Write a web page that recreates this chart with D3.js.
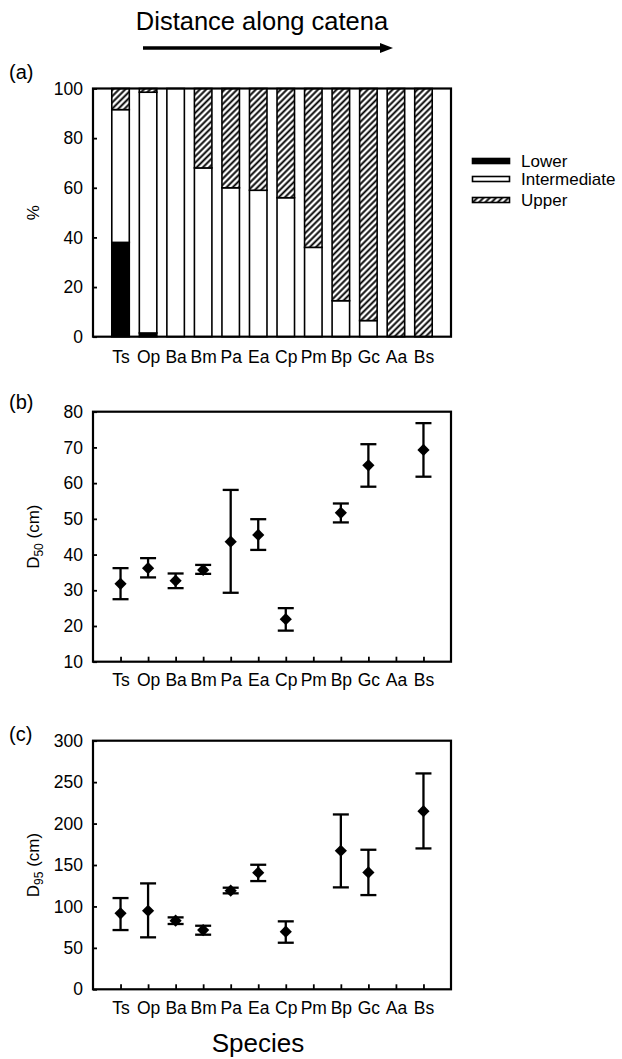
<!DOCTYPE html>
<html>
<head>
<meta charset="utf-8">
<script src="https://cdn.jsdelivr.net/npm/d3@7"></script>
<style>
  body { margin: 0; background: #fff; }
  svg text { font-family: "Liberation Sans", Arial, sans-serif; fill: #000; }
</style>
</head>
<body>
<svg id="chart" width="622" height="1059"></svg>
<script>
// species along the catena
var species = ["Ts", "Op", "Ba", "Bm", "Pa", "Ea", "Cp", "Pm", "Bp", "Gc", "Aa", "Bs"];

// (a) % of individuals in each catena position
var lowerPct = [38, 1.5, 0, 0, 0, 0, 0, 0, 0, 0, 0, 0];
var interPct = [53.5, 97, 100, 68, 60, 59, 56, 36, 14.5, 6.5, 0, 0];
var upperPct = [8.5, 1.5, 0, 32, 40, 41, 44, 64, 85.5, 93.5, 100, 100];

// (b) D50 (cm): mean, upper and lower error
var d50Mean = [31.8, 36.2, 32.7, 35.7, 43.6, 45.5, 21.9, null, 51.7, 65.0, null, 69.3];
var d50Hi   = [36.2, 39.0, 34.7, 37.1, 58.1, 49.9, 25.0, null, 54.3, 70.9, null, 76.8];
var d50Lo   = [27.5, 33.6, 30.6, 34.6, 29.3, 41.3, 18.7, null, 49.0, 59.0, null, 61.8];

// (c) D95 (cm)
var d95Mean = [91.7, 94.8, 82.8, 71.5, 119, 140.7, 69.5, null, 167.2, 141.1, null, 215];
var d95Hi   = [110.1, 127.8, 86.8, 76.7, 122.6, 150.3, 82, null, 211, 168.4, null, 260.5];
var d95Lo   = [71.5, 62.7, 78.8, 65.9, 115.8, 130.6, 56.2, null, 123, 113.7, null, 170];

var legendLabels = ["Lower", "Intermediate", "Upper"];

var svg = d3.select("#chart");
var left = 93, right = 451;

// hatch for upper (line centred in the tile so it isn't clipped)
var defs = svg.append("defs");
var pat = defs.append("pattern")
	.attr("id", "hatch")
	.attr("patternUnits", "userSpaceOnUse")
	.attr("width", 4.4)
	.attr("height", 4.4)
	.attr("patternTransform", "rotate(45)");
pat.append("rect").attr("width", 4.4).attr("height", 4.4).attr("fill", "#fff");
pat.append("line")
	.attr("x1", 2.2).attr("y1", 0)
	.attr("x2", 2.2).attr("y2", 4.4)
	.attr("stroke", "#000")
	.attr("stroke-width", 1.9);

var x = d3.scalePoint()
	.domain(species)
	.range([left, right])
	.padding(1);

// title + arrow
svg.append("text")
	.attr("x", 262)
	.attr("y", 30)
	.attr("text-anchor", "middle")
	.style("font-size", "25.5px")
	.text("Distance along catena");

svg.append("line")
	.attr("x1", 143).attr("y1", 48)
	.attr("x2", 382).attr("y2", 48)
	.attr("stroke", "#000")
	.attr("stroke-width", 3.5);
svg.append("path")
	.attr("d", "M380,43 L393,48 L380,53 Z")
	.attr("fill", "#000");

function panelLetter(txt, y)
{
	svg.append("text")
		.attr("x", 9)
		.attr("y", y)
		.style("font-size", "20px")
		.text(txt);
}

function yLabel(cy, main, sub)
{
	var t = svg.append("text")
		.attr("transform", "translate(39," + cy + ") rotate(-90)")
		.attr("text-anchor", "middle")
		.style("font-size", "17px");
	t.append("tspan").text(main);
	if (sub)
	{
		t.append("tspan").attr("dy", 4).style("font-size", "12px").text(sub);
		t.append("tspan").attr("dy", -4).text(" (cm)");
	}
}

function axes(g, y, top, bottom, ticks, xTick, xPad)
{
	g.append("g")
		.attr("transform", "translate(" + left + ",0)")
		.call(d3.axisLeft(y).tickValues(ticks).tickSizeInner(-4).tickSizeOuter(0).tickPadding(10))
		.call(function(s) {
			s.select(".domain").remove();
			s.selectAll("line").attr("stroke-width", 1.8);
			s.selectAll("text").style("font-size", "17.5px").attr("font-family", null);
		});

	g.append("g")
		.attr("transform", "translate(0," + bottom + ")")
		.call(d3.axisBottom(x).tickSizeInner(xTick).tickSizeOuter(0).tickPadding(xPad))
		.call(function(s) {
			s.select(".domain").remove();
			s.selectAll("line").attr("stroke-width", 1.8);
			s.selectAll("text").style("font-size", "17.5px").attr("font-family", null);
		});

	g.append("rect")
		.attr("x", left)
		.attr("y", top)
		.attr("width", right - left)
		.attr("height", bottom - top)
		.attr("fill", "none")
		.attr("stroke", "#000")
		.attr("stroke-width", 2.2);
}

// ---------- (a) ----------
var aTop = 88.5, aBot = 336.7;
var ya = d3.scaleLinear().domain([0, 100]).range([aBot, aTop]);
var ga = svg.append("g");
var barW = 17.5;

var stackRows = species.map(function(s, i)
{
	return { sp: s, lower: lowerPct[i], inter: interPct[i], upper: upperPct[i] };
});
var stack = d3.stack().keys(["lower", "inter", "upper"])(stackRows);
var fills = { lower: "#000", inter: "#fff", upper: "url(#hatch)" };

stack.forEach(function(layer)
{
	ga.selectAll(".bar-" + layer.key)
		.data(layer.filter(function(d) { return d[1] - d[0] > 0; }))
		.enter().append("rect")
		.attr("x", function(d) { return x(d.data.sp) - barW / 2; })
		.attr("y", function(d) { return ya(d[1]); })
		.attr("width", barW)
		.attr("height", function(d) { return ya(d[0]) - ya(d[1]); })
		.attr("fill", fills[layer.key])
		.attr("stroke", "#000")
		.attr("stroke-width", 1.6);
});

axes(ga, ya, aTop, aBot, [0, 20, 40, 60, 80, 100], 0, 14);
panelLetter("(a)", 79);
yLabel((aTop + aBot) / 2, "%");

// legend
var legY = [161, 179, 200];
var legFill = ["#000", "#fff", "url(#hatch)"];
var leg = svg.append("g");
legendLabels.forEach(function(l, i)
{
	leg.append("rect")
		.attr("x", 472.5)
		.attr("y", legY[i] - 2.5)
		.attr("width", 37)
		.attr("height", 5)
		.attr("fill", legFill[i])
		.attr("stroke", "#000")
		.attr("stroke-width", 1.6);
	leg.append("text")
		.attr("x", 521)
		.attr("y", legY[i] + 6)
		.style("font-size", "17px")
		.text(l);
});

// ---------- error-bar panels ----------
function errPanel(top, bottom, domain, ticks, mean, hi, lo)
{
	var y = d3.scaleLinear().domain(domain).range([bottom, top]);
	var g = svg.append("g");
	axes(g, y, top, bottom, ticks, -5, 12);

	var pts = species.map(function(s, i)
	{
		return { sp: s, m: mean[i], hi: hi[i], lo: lo[i] };
	}).filter(function(d) { return d.m != null; });

	var cap = 8;
	var e = g.selectAll(".err").data(pts).enter().append("g");
	e.append("line")
		.attr("x1", function(d) { return x(d.sp); })
		.attr("x2", function(d) { return x(d.sp); })
		.attr("y1", function(d) { return y(d.hi); })
		.attr("y2", function(d) { return y(d.lo); })
		.attr("stroke", "#000").attr("stroke-width", 2.3);
	["hi", "lo"].forEach(function(k)
	{
		e.append("line")
			.attr("x1", function(d) { return x(d.sp) - cap; })
			.attr("x2", function(d) { return x(d.sp) + cap; })
			.attr("y1", function(d) { return y(d[k]); })
			.attr("y2", function(d) { return y(d[k]); })
			.attr("stroke", "#000").attr("stroke-width", 2.3);
	});
	e.append("path")
		.attr("d", d3.symbol().type(d3.symbolDiamond2).size(95))
		.attr("transform", function(d) { return "translate(" + x(d.sp) + "," + y(d.m) + ")"; })
		.attr("fill", "#000");
	return g;
}

var bTop = 411.7, bBot = 661.7;
errPanel(bTop, bBot, [10, 80], [10, 20, 30, 40, 50, 60, 70, 80], d50Mean, d50Hi, d50Lo);
panelLetter("(b)", 409);
yLabel((bTop + bBot) / 2, "D", "50");

var cTop = 740.7, cBot = 989.3;
errPanel(cTop, cBot, [0, 300], [0, 50, 100, 150, 200, 250, 300], d95Mean, d95Hi, d95Lo);
panelLetter("(c)", 741);
yLabel((cTop + cBot) / 2, "D", "95");

svg.append("text")
	.attr("x", 258)
	.attr("y", 1052)
	.attr("text-anchor", "middle")
	.style("font-size", "26px")
	.text("Species");
</script>
</body>
</html>
